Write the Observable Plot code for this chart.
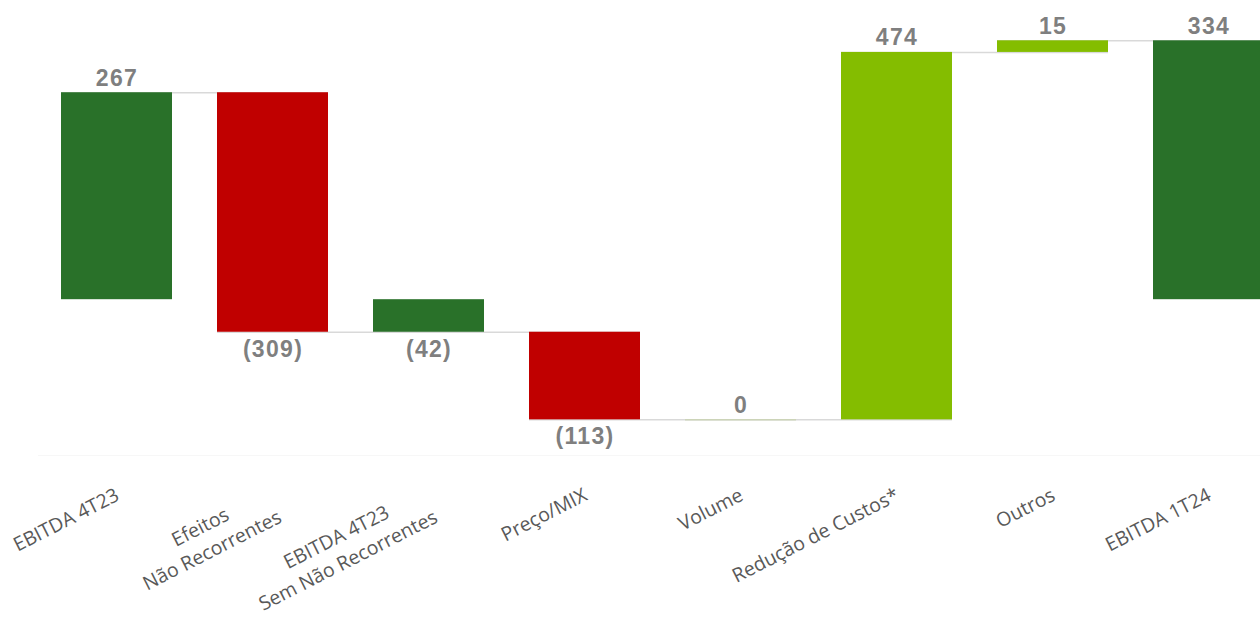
<!DOCTYPE html>
<html>
<head>
<meta charset="utf-8">
<script src="https://cdn.jsdelivr.net/npm/d3@7"></script>
<script src="https://cdn.jsdelivr.net/npm/@observablehq/plot@0.6"></script>
<style>
  html, body { margin: 0; padding: 0; background: #fff; overflow: hidden; }
  #chart svg g[font-weight="bold"] { letter-spacing: 1.3px; }
</style>
</head>
<body>
<div id="chart"></div>
<script>
// ---- data ----
const categories = [
  "EBITDA 4T23",
  "Efeitos\nNão Recorrentes",
  "EBITDA 4T23\nSem Não Recorrentes",
  "Preço/MIX",
  "Volume",
  "Redução de Custos*",
  "Outros",
  "EBITDA 1T24"
];
const values = [267, -309, -42, -113, 0, 474, 15, 334];
const kinds = ["total", "delta", "total", "delta", "delta", "delta", "delta", "total"];

const colorTotal = "#297129";
const colorUp = "#84bd00";
const colorDown = "#c00000";

// ---- waterfall layout ----
let running = 0;
const rows = categories.map((cat, i) => {
  const v = values[i];
  let start, end;
  if (kinds[i] === "total") { start = 0; end = v; }
  else { start = running; end = running + v; }
  running = end;
  return {
    cat, v, start, end, kind: kinds[i],
    lo: Math.min(start, end), hi: Math.max(start, end),
    fill: kinds[i] === "total" ? colorTotal : (v < 0 ? colorDown : colorUp)
  };
});
const connectors = rows.slice(0, -1).map((r, i) => ({x1: r.cat, x2: rows[i + 1].cat, y: r.end}));
const fmt = v => v < 0 ? `(${-v})` : `${v}`;

// ---- axis label placement (rotated, centered multi-line blocks) ----
const W = 1260, H = 619;
const marginBottom = 164;
const angle = 27;
const th = angle * Math.PI / 180;
const labelFs = 19.5, labelLh = 1.33;
const ctx = document.createElement("canvas").getContext("2d");
ctx.font = `${labelFs}px "Open Sans"`;
function labelMark(r) {
  const lines = r.cat.split("\n");
  const n = lines.length;
  const w = Math.max(...lines.map(s => ctx.measureText(s).width));
  // baseline-right end of the last (longest) line
  const offX = 3.5 + 6.5 * (n - 1);
  const offY = 44 + 22 * (n - 1);
  const dx = offX - (w / 2) * Math.cos(th);
  const dy = offY + (w / 2) * Math.sin(th);
  return Plot.text([r], {
    x: "cat", text: "cat", frameAnchor: "bottom",
    rotate: -angle, textAnchor: "middle", lineAnchor: "bottom", lineHeight: labelLh,
    fontSize: labelFs, fontFamily: "Open Sans", fill: "#595959",
    dx, dy
  });
}

const valueStyle = {fontSize: 23, fontWeight: "bold", fontFamily: "Liberation Sans", fill: "#7f7f7f"};

const plot = Plot.plot({
  width: W,
  height: H,
  marginTop: 0,
  marginBottom,
  marginLeft: 38,
  marginRight: 0,
  style: {background: "#fff"},
  x: {type: "band", domain: categories, range: [15, 1311], padding: 0.288, axis: null},
  y: {domain: [-201, 386], axis: null},
  marks: [
    Plot.frame({anchor: "bottom", stroke: "#f7f7f7"}),
    Plot.ruleY(connectors, {x1: "x1", x2: "x2", y: "y", stroke: "#d9d9d9", strokeWidth: 1.5}),
    Plot.barY(rows, {x: "cat", y1: "start", y2: "end", fill: "fill"}),
    Plot.ruleY(rows.filter(d => d.v === 0 && d.kind !== "total"),
      {x1: "cat", x2: "cat", y: "end", stroke: colorUp, strokeOpacity: 0.15, strokeWidth: 1.5}),
    Plot.text(rows.filter(d => d.v >= 0), {x: "cat", y: "hi", text: d => fmt(d.v), lineAnchor: "bottom", dy: -7, ...valueStyle}),
    Plot.text(rows.filter(d => d.v < 0), {x: "cat", y: "lo", text: d => fmt(d.v), lineAnchor: "top", dy: 8, ...valueStyle}),
    ...rows.map(labelMark)
  ]
});
document.getElementById("chart").appendChild(plot);
</script>
</body>
</html>
